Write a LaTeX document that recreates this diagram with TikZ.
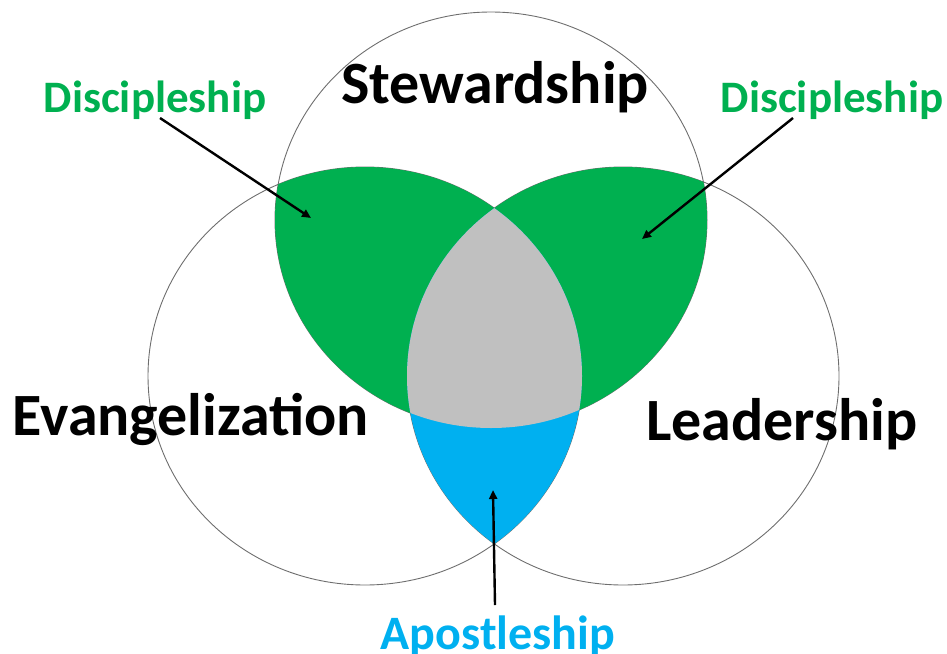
\documentclass[tikz,border=0pt]{standalone}
\usepackage{fontspec}
\setmainfont{Carlito}
\usetikzlibrary{arrows.meta}

\definecolor{venngreen}{RGB}{0,176,80}
\definecolor{vennblue}{RGB}{0,176,240}
\definecolor{venngray}{RGB}{192,192,192}
\definecolor{rimgray}{RGB}{110,110,110}

\tikzset{
  rim/.style={draw=rimgray, line width=0.9pt},
  pointer/.style={draw=black, line width=2.4pt, -{Triangle[length=9pt,width=8pt]}},
  bigword/.style={anchor=base, inner sep=0pt, font=\bfseries\fontsize{60}{60}\selectfont, text=black},
  smallword/.style={anchor=base, inner sep=0pt, font=\bfseries\fontsize{45}{45}\selectfont},
}

% the three circles
\def\topring{(491,220) ellipse [x radius=216pt, y radius=208pt]}
\def\leftring{(365,376) ellipse [x radius=217pt, y radius=209pt]}
\def\rightring{(623,376) ellipse [x radius=216pt, y radius=209pt]}

\begin{document}
\begin{tikzpicture}[x=1pt, y=-1pt]
\useasboundingbox (0,0) rectangle (947,653);

% outlines
\draw[rim] \topring;
\draw[rim] \leftring;
\draw[rim] \rightring;

% top-left and top-right overlaps
\begin{scope}
  \clip \topring;
  \fill[venngreen] \leftring;
  \fill[venngreen] \rightring;
\end{scope}
% left-right overlap
\begin{scope}
  \clip \leftring;
  \fill[vennblue] \rightring;
\end{scope}
% centre, common to all three
\begin{scope}
  \clip \topring;
  \clip \leftring;
  \fill[venngray] \rightring;
\end{scope}

% labels
\node[bigword] (stew) at (495,103) {Stewardship};
\node[bigword] (evan) at (191,435) {Evangelization};
\node[bigword] (lead) at (782,440) {Leadership};
\node[smallword, text=venngreen] (discL) at (155,112) {Discipleship};
\node[smallword, text=venngreen] (discR) at (832,112) {Discipleship};
\node[smallword, text=vennblue, font=\bfseries\fontsize{48}{48}\selectfont] (apos) at (498,649) {Apostleship};

% pointers
\coordinate (discLtail) at (160,118);
\coordinate (discLtip) at (311,218);
\coordinate (discRtail) at (793,118);
\coordinate (discRtip) at (642,239);
\coordinate (apostail) at (495,605);
\coordinate (apostip) at (493,490);
\draw[pointer] (discLtail) -- (discLtip);
\draw[pointer] (discRtail) -- (discRtip);
\draw[pointer] (apostail) -- (apostip);
\end{tikzpicture}
\end{document}
